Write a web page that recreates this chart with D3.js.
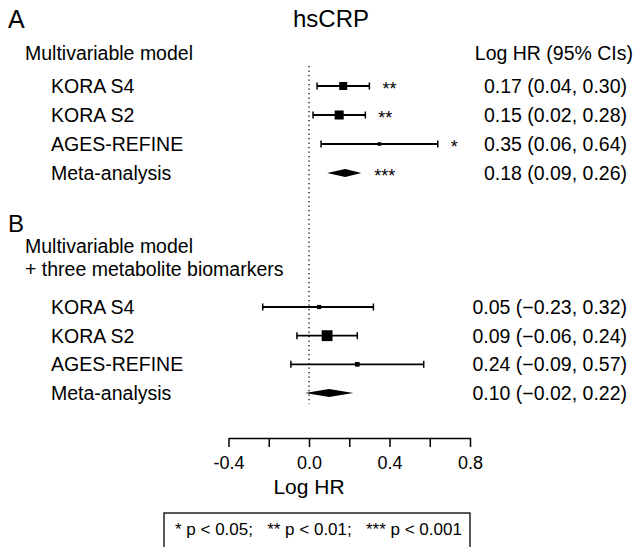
<!DOCTYPE html>
<html>
<head>
<meta charset="utf-8">
<script src="https://cdn.jsdelivr.net/npm/d3@7"></script>
<style>
  html, body { margin: 0; padding: 0; background: #fff; }
  svg { display: block; font-family: "Liberation Sans", Arial, Helvetica, sans-serif; }
  text { white-space: pre; fill: #000; }
</style>
</head>
<body>
<svg id="chart" width="640" height="547"></svg>
<script>
// ---- data ----
const studies = ["KORA S4", "KORA S2", "AGES-REFINE", "Meta-analysis"];
const estA = [0.17, 0.15, 0.35, 0.18];
const lowA = [0.04, 0.02, 0.06, 0.09];
const upA  = [0.30, 0.28, 0.64, 0.26];
const sigA = ["**", "**", "*", "***"];
const weightA = [41, 52, 8];          // study weights (%) -> box size
const estB = [0.05, 0.09, 0.24, 0.10];
const lowB = [-0.23, -0.06, -0.09, -0.02];
const upB  = [0.32, 0.24, 0.57, 0.22];
const sigB = ["", "", "", ""];
const weightB = [11, 75, 14];
const tickValues = [-0.4, -0.2, 0.0, 0.2, 0.4, 0.6, 0.8];
const tickLabels = ["-0.4", "", "0.0", "", "0.4", "", "0.8"];
const fmtCI = (e, l, u) => {
  const f = v => (v < 0 ? "\u2212" : "") + Math.abs(v).toFixed(2);
  return `${f(e)} (${f(l)}, ${f(u)})`;
};

// ---- scales ----
const svg = d3.select("#chart");
const x = d3.scaleLinear().domain([-0.4, 0.8]).range([228.5, 470]);
const yA = d3.scaleLinear().domain([0, 3]).range([86, 173]);
const yB = d3.scaleLinear().domain([0, 3]).range([307, 393]);
const box = d3.scaleSqrt().domain([0, 100]).range([0, 12.5]);
const FS = 19.5;

// titles
svg.append("text").attr("x", 8).attr("y", 28).attr("font-size", 25).text("A");
svg.append("text").attr("x", 331).attr("y", 27).attr("font-size", 24)
  .attr("text-anchor", "middle").text("hsCRP");
svg.append("text").attr("x", 633).attr("y", 60).attr("font-size", FS)
  .attr("text-anchor", "end").text("Log HR (95% CIs)");
svg.append("text").attr("x", 25).attr("y", 60).attr("font-size", FS).text("Multivariable model");
svg.append("text").attr("x", 8).attr("y", 232).attr("font-size", 24).text("B");
svg.append("text").attr("x", 25).attr("y", 253).attr("font-size", FS).text("Multivariable model");
svg.append("text").attr("x", 25).attr("y", 276).attr("font-size", FS).text("+ three metabolite biomarkers");

// reference line at 0
svg.append("line")
  .attr("x1", x(0)).attr("x2", x(0)).attr("y1", 66).attr("y2", 404)
  .attr("stroke", "#000").attr("stroke-width", 1.3).attr("stroke-dasharray", "1.3,3.2");

function panel(y, est, low, up, sig, weight) {
  const g = svg.append("g");
  const rows = studies.map((s, i) => ({s, i, e: est[i], l: low[i], u: up[i], sig: sig[i], w: weight[i]}));
  // labels
  g.selectAll("text.lab").data(rows).join("text")
    .attr("x", 51).attr("y", d => y(d.i) + 7).attr("font-size", FS).text(d => d.s);
  g.selectAll("text.val").data(rows).join("text")
    .attr("x", 627).attr("y", d => y(d.i) + 7).attr("font-size", FS)
    .attr("text-anchor", "end").text(d => fmtCI(d.e, d.l, d.u));
  const st = rows.filter(d => d.i < 3);
  // CI lines
  g.selectAll("line.ci").data(st).join("line")
    .attr("x1", d => x(d.l)).attr("x2", d => x(d.u))
    .attr("y1", d => y(d.i)).attr("y2", d => y(d.i))
    .attr("stroke", "#000").attr("stroke-width", 1.8);
  // caps
  ["l", "u"].forEach(k => {
    g.selectAll("line.cap" + k).data(st).join("line")
      .attr("x1", d => x(d[k])).attr("x2", d => x(d[k]))
      .attr("y1", d => y(d.i) - 3.5).attr("y2", d => y(d.i) + 3.5)
      .attr("stroke", "#000").attr("stroke-width", 1.5);
  });
  // boxes
  g.selectAll("rect.box").data(st).join("rect")
    .attr("x", d => x(d.e) - box(d.w) / 2).attr("y", d => y(d.i) - box(d.w) / 2)
    .attr("width", d => box(d.w)).attr("height", d => box(d.w)).attr("fill", "#000");
  // diamond
  const m = rows[3];
  g.append("path")
    .attr("d", `M${x(m.l)},${y(3)} L${x(m.e)},${y(3) - 4} L${x(m.u)},${y(3)} L${x(m.e)},${y(3) + 4} Z`)
    .attr("fill", "#000");
  // significance stars
  g.selectAll("text.sig").data(rows.filter(d => d.sig)).join("text")
    .attr("x", d => x(d.u) + 13).attr("y", d => y(d.i) + 9).attr("font-size", 18).text(d => d.sig);
}
panel(yA, estA, lowA, upA, sigA, weightA);
panel(yB, estB, lowB, upB, sigB, weightB);

// axis
const axis = d3.axisBottom(x).tickValues(tickValues).tickSize(9).tickSizeOuter(0)
  .tickFormat((d, i) => tickLabels[i]);
const ag = svg.append("g").attr("transform", "translate(0,438)").call(axis);
ag.select(".domain").attr("stroke-width", 1.5);
ag.selectAll(".tick line").attr("stroke-width", 1.5);
ag.selectAll(".tick text").attr("font-size", 18).attr("y", 31).attr("dy", 0)
  .attr("font-family", "Liberation Sans, Arial, sans-serif").attr("fill", "#000");
svg.append("text").attr("x", x(0)).attr("y", 494).attr("font-size", 21)
  .attr("text-anchor", "middle").text("Log HR");

// legend
svg.append("rect").attr("x", 164).attr("y", 513).attr("width", 306).attr("height", 50)
  .attr("fill", "none").attr("stroke", "#000").attr("stroke-width", 1.3);
svg.append("text").attr("x", 175).attr("y", 535).attr("font-size", 17)
  .text("* p < 0.05;   ** p < 0.01;   *** p < 0.001");
</script>
</body>
</html>
